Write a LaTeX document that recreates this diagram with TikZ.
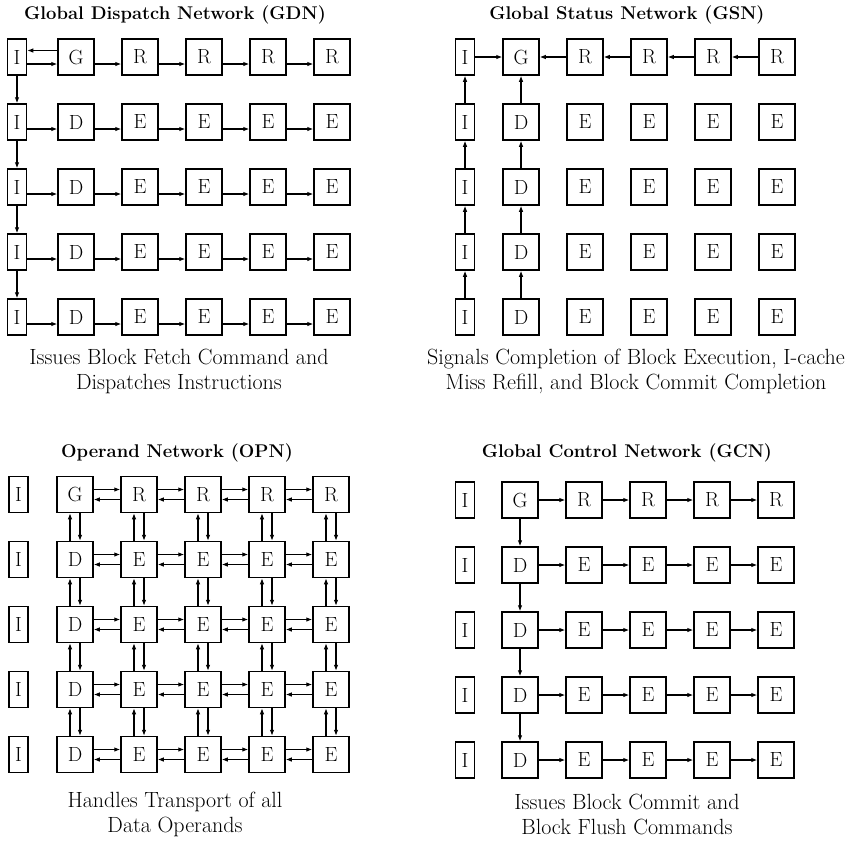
\documentclass[tikz,border=0pt]{standalone}
\usepackage{fontspec}
\usetikzlibrary{arrows.meta}

% one panel of tiles: prefix, x of I column, x of first tile column, y of first row
\newcommand{\tilerows}[4]{%
  \foreach \r in {0,...,4}{
    \pgfmathsetmacro{\yy}{#4+65*\r}
    \ifnum\r=0 \def\first{G}\def\rest{R}\else\def\first{D}\def\rest{E}\fi
    \node[ibox] (#1\r0) at (#2,\yy) {I};
    \node[tile] (#1\r1) at (#3,\yy) {\first};
    \foreach \c in {2,...,5}
      \node[tile] (#1\r\c) at (#3+64*\c-64,\yy) {\rest};
  }}

\begin{document}
\begin{tikzpicture}[x=1pt,y=-1pt,
    tile/.style={draw, line width=1.5pt, minimum size=36pt, inner sep=0pt,
      font=\fontsize{20.5}{20}\selectfont},
    ibox/.style={tile, minimum width=19pt},
    arr/.style={-{Latex[length=6pt,width=4.6pt]}, line width=1.1pt},
    title/.style={font=\bfseries\fontsize{18.4}{20}\selectfont},
    remark/.style={align=center, font=\fontsize{22}{25}\selectfont}]
\useasboundingbox (0,0) rectangle (852,841);

% Global Dispatch Network
\node[title] (gdn) at (175,15) {Global Dispatch Network (GDN)};
\tilerows{d}{17}{76}{57}
\draw[arr] ([yshift=6.5pt]d01.west) -- ([yshift=6.5pt]d00.east);
\foreach \r in {0,...,4}{
  \foreach \c in {0,...,4}{
    \pgfmathtruncatemacro{\n}{\c+1}
    \draw[arr] ([yshift=-7pt]d\r\c.east) -- ([yshift=-7pt]d\r\n.west);
  }}
\foreach \r in {0,...,3}{
  \pgfmathtruncatemacro{\n}{\r+1}
  \draw[arr] (d\r0.south) -- (d\n0.north);
}
\node[remark] (gdntext) at (179,371.5) {Issues Block Fetch Command and\\Dispatches Instructions};

% Global Status Network
\node[title] (gsn) at (627,15) {Global Status Network (GSN)};
\tilerows{s}{465}{521}{57}
\draw[arr] (s00.east) -- (s01.west);
\foreach \c in {1,...,4}{
  \pgfmathtruncatemacro{\n}{\c+1}
  \draw[arr] (s0\n.west) -- (s0\c.east);
}
\foreach \r in {0,...,3}{
  \pgfmathtruncatemacro{\n}{\r+1}
  \draw[arr] (s\n0.north) -- (s\r0.south);
  \draw[arr] (s\n1.north) -- (s\r1.south);
}
\node[remark] (gsntext) at (636,371.5) {Signals Completion of Block Execution, I-cache\\Miss Refill, and Block Commit Completion};

% Operand Network
\node[title] (opn) at (177,453) {Operand Network (OPN)};
\tilerows{o}{18.5}{75}{494.5}
\foreach \r in {0,...,4}{
  \foreach \c in {1,...,4}{
    \pgfmathtruncatemacro{\n}{\c+1}
    \draw[arr] ([yshift=5pt]o\r\c.east) -- ([yshift=5pt]o\r\n.west);
    \draw[arr] ([yshift=-5pt]o\r\n.west) -- ([yshift=-5pt]o\r\c.east);
  }}
\foreach \r in {0,...,3}{
  \pgfmathtruncatemacro{\n}{\r+1}
  \foreach \c in {1,...,5}{
    \draw[arr] ([xshift=-5pt]o\n\c.north) -- ([xshift=-5pt]o\r\c.south);
    \draw[arr] ([xshift=5pt]o\r\c.south) -- ([xshift=5pt]o\n\c.north);
  }}
\node[remark] (opntext) at (175,814) {Handles Transport of all\\Data Operands};

% Global Control Network
\node[title] (gcn) at (627,453) {Global Control Network (GCN)};
\tilerows{c}{465}{520}{500}
\foreach \r in {0,...,4}{
  \foreach \c in {1,...,4}{
    \pgfmathtruncatemacro{\n}{\c+1}
    \draw[arr] (c\r\c.east) -- (c\r\n.west);
  }}
\foreach \r in {0,...,3}{
  \pgfmathtruncatemacro{\n}{\r+1}
  \draw[arr] (c\r1.south) -- (c\n1.north);
}
\node[remark] (gcntext) at (627,814) {Issues Block Commit and\\Block Flush Commands};
\end{tikzpicture}
\end{document}
